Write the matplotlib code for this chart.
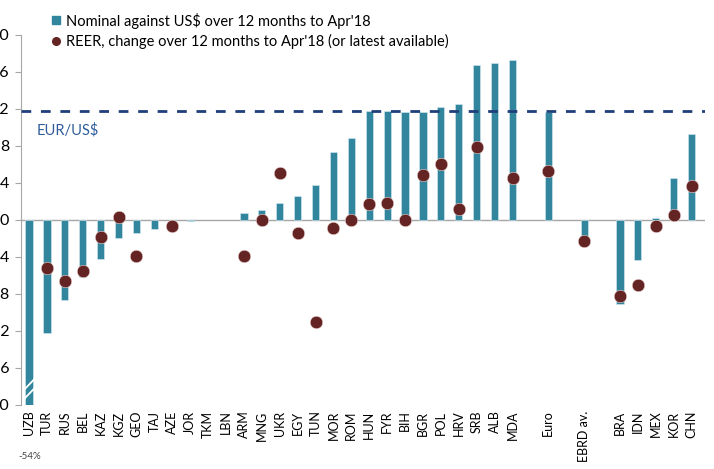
import numpy as np
import matplotlib
matplotlib.use("Agg")
import matplotlib.pyplot as plt
from matplotlib.lines import Line2D

# =========================
# DATA
# =========================
nan = np.nan
labels = ["UZB", "TUR", "RUS", "BEL", "KAZ", "KGZ", "GEO", "TAJ", "AZE", "JOR",
          "TKM", "LBN", "ARM", "MNG", "UKR", "EGY", "TUN", "MOR", "ROM", "HUN",
          "FYR", "BIH", "BGR", "POL", "HRV", "SRB", "ALB", "MDA", "",
          "Euro", "", "EBRD av.", "", "BRA", "IDN", "MEX", "KOR", "CHN"]

nominal = [-54, -12.2, -8.7, -6.2, -4.2, -1.95, -1.4, -0.95, -0.4, -0.1,
           nan, nan, 0.8, 1.1, 1.8, 2.6, 3.8, 7.3, 8.9, 11.8,
           11.8, 11.7, 11.7, 12.2, 12.5, 16.7, 17.0, 17.3, nan,
           11.7, nan, -1.8, nan, -9.1, -4.3, 0.2, 4.5, 9.3]

reer = [nan, -5.2, -6.6, -5.5, -1.8, 0.35, -3.9, nan, -0.7, nan,
        nan, nan, -3.9, 0.0, 5.1, -1.45, -11.0, -0.9, 0.0, 1.7,
        1.8, 0.0, 4.9, 6.1, 1.2, 7.9, nan, 4.5, nan,
        5.3, nan, -2.3, nan, -8.2, -7.0, -0.6, 0.5, 3.7]

eur_usd = 11.8
yticks = [20, 16, 12, 8, 4, 0, -4, -8, -12, -16, -20]

TEAL = "#31859C"
DARKRED = "#632423"
NAVY = "#1F3F7A"
GREY = "#A6A6A6"

plt.rcParams["font.family"] = ["Lato", "DejaVu Sans"]

# =========================
# FIGURE
# =========================
fig = plt.figure(figsize=(7.14, 4.69), dpi=100)
ax = fig.add_axes([0.0294, 0.1365, 0.958, 0.789])

x = np.arange(len(labels))

ax.axhline(0, color=GREY, lw=1, zorder=1)
ax.bar(x, nominal, width=0.4, color=TEAL, edgecolor="#D6ECF1", linewidth=0.4, zorder=2)
ax.plot(x, reer, "o", color=DARKRED, markersize=9, markeredgecolor="#F0D8D8",
        markeredgewidth=0.4, ls="none", zorder=3)
ax.axhline(eur_usd, color=NAVY, lw=2, ls=(0, (3.5, 3.5)), zorder=4)
ax.text(0.4, eur_usd - 1.3, "EUR/US$", color="#2E5C9A", fontsize=10.5, va="top")

# axis break on the UZB bar (value off the scale)
ymin = yticks[-1]
for off in (1.2, 2.2):
    ax.plot([-0.3, 0.3], [ymin + off - 0.6, ymin + off + 0.6], color="white",
            lw=1.3, zorder=3)
ax.text(-0.6, ymin - 5.6, f"{nominal[0]:.0f}%", fontsize=7, color="#404040",
        ha="left", va="center")

ax.set_xlim(-0.45, len(labels) - 0.25)
ax.set_ylim(ymin, yticks[0])
ax.set_yticks(yticks)
ax.set_yticklabels([str(t) for t in yticks], fontsize=11.5)
ax.set_xticks(x)
ax.set_xticklabels(labels, rotation=90, fontsize=9)
ax.tick_params(axis="x", length=0, pad=4)
ax.tick_params(axis="y", length=4.5, color=GREY, pad=4, direction="out")

for s in ["top", "right", "bottom"]:
    ax.spines[s].set_visible(False)
ax.spines["left"].set_color(GREY)

handles = [
    Line2D([], [], marker="s", color=TEAL, ls="none", markersize=5.5),
    Line2D([], [], marker="o", color=DARKRED, ls="none", markersize=5.5),
]
names = ["Nominal against US$ over 12 months to Apr'18",
         "REER, change over 12 months to Apr'18 (or latest available)"]
fig.legend(handles, names, loc="upper left", bbox_to_anchor=(0.058, 0.995),
           frameon=False, fontsize=10.5, handlelength=0.6, handletextpad=0.4,
           labelspacing=0.35, borderpad=0.2)

fig.savefig("out.png", dpi=100)
